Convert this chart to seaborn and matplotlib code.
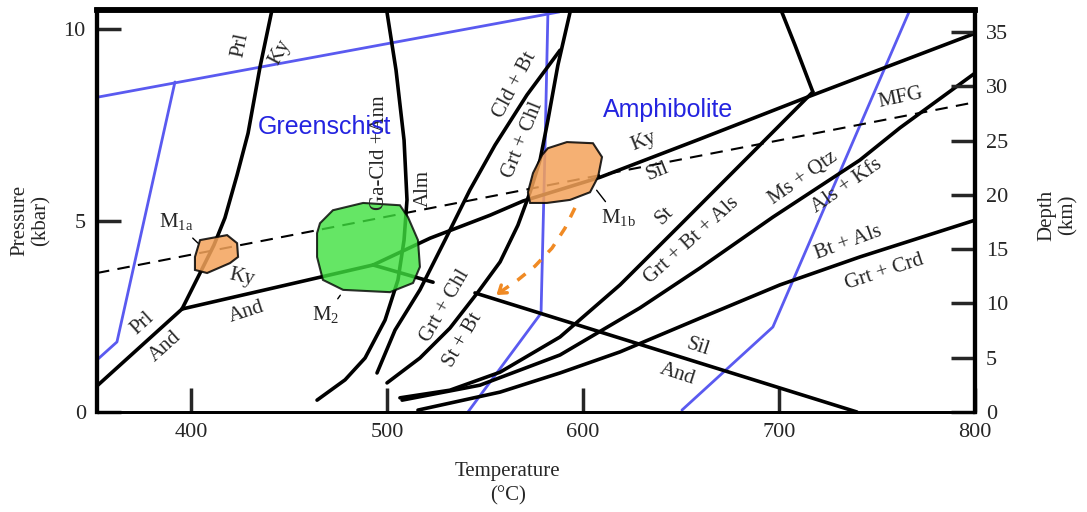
import matplotlib
matplotlib.use("Agg")
import matplotlib.pyplot as plt
import seaborn as sns

# ---- reaction curves (T in degC, P in kbar) ----
prl_and_T = [352, 395.4]
prl_and_P = [0.68, 2.69]

prl_ky_T = [395.4, 404.6, 411.7, 417.3, 423.5, 429.1, 435.2, 441.3]
prl_ky_P = [2.69, 3.63, 4.36, 5.07, 6.19, 7.28, 9.01, 10.5]

ky_and_T = [395.4, 455.6, 492.9]
ky_and_P = [2.69, 3.40, 3.84]

ky_sil_T = [492.9, 522.0, 552.6, 569.4, 608.7, 659.7, 715.8, 800]
ky_sil_P = [3.84, 4.54, 5.14, 5.51, 6.13, 7.13, 8.25, 9.89]

and_sil_a_T = [492.9, 523.5]
and_sil_a_P = [3.84, 3.39]
and_sil_b_T = [544.9, 739.8]
and_sil_b_P = [3.11, 0.0]

alm_T = [464.3, 478.6, 488.8, 499.0, 505.6, 508.7, 510.2, 508.7, 504.6, 500.0]
alm_P = [0.31, 0.84, 1.41, 2.40, 3.45, 4.49, 5.54, 7.10, 8.93, 10.44]

cld_bt_T = [494.9, 504.1, 516.8, 529.6, 542.3, 555.1, 571.4, 588.3]
cld_bt_P = [1.02, 2.14, 3.19, 4.49, 5.80, 6.97, 8.28, 9.45]

grt_chl_T = [500.0, 516.8, 532.1, 546.4, 557.7, 566.8, 573.0, 578.1, 582.1, 587.2, 593.4]
grt_chl_P = [0.76, 1.41, 2.19, 3.13, 3.92, 4.88, 5.74, 6.58, 7.62, 9.06, 10.44]

melt_T = [701.5, 708.2, 717.3]
melt_P = [10.44, 9.58, 8.36]

st_T = [717.3, 685.2, 649.5, 618.9, 588.3, 557.7, 532.1, 506.6]
st_P = [8.36, 6.71, 4.88, 3.32, 1.96, 1.04, 0.57, 0.37]

ms_qtz_T = [800, 761.7, 741.3, 696.9, 659.7, 629.1, 588.3, 547.4, 507.7]
ms_qtz_P = [8.85, 7.42, 6.58, 5.09, 3.76, 2.72, 1.49, 0.70, 0.31]

bt_als_T = [800, 741.3, 700.5, 659.7, 618.9, 588.3, 557.7, 515.8]
bt_als_P = [5.01, 4.05, 3.32, 2.45, 1.57, 1.02, 0.52, 0.05]

mfg_T = [352, 800]
mfg_P = [3.63, 8.09]

# ---- facies boundaries (blue) ----
fac_top_T = [352, 588]
fac_top_P = [8.22, 10.45]
fac_left_T = [391.8, 362.2, 352]
fac_left_P = [8.62, 1.83, 1.36]
fac_mid_T = [582.1, 580.6, 578.6, 541.3]
fac_mid_P = [10.42, 6.84, 2.58, 0.0]
fac_right_T = [650.5, 696.9, 766.8]
fac_right_P = [0.05, 2.22, 10.5]

# ---- metamorphic stages ----
m1a_T = [404.6, 418.4, 423.5, 424.0, 419.9, 408.2, 402.0, 402.0]
m1a_P = [4.49, 4.62, 4.41, 4.05, 3.89, 3.63, 3.71, 4.05]
m2_T = [465.8, 472.4, 487.8, 506.6, 510.7, 515.8, 516.8, 513.3, 501.5, 477.6, 467.3, 464.3, 464.3]
m2_P = [4.93, 5.27, 5.46, 5.40, 5.09, 4.49, 3.79, 3.37, 3.13, 3.19, 3.45, 4.05, 4.67]
m1b_T = [582.1, 591.8, 605.1, 609.7, 607.7, 603.6, 593.4, 581.6, 573.0, 571.9, 574.5, 579.1]
m1b_P = [6.89, 7.05, 7.02, 6.66, 6.14, 5.74, 5.54, 5.46, 5.46, 5.74, 6.24, 6.71]

path_T = [595.9, 590.8, 584.2, 575.5, 566.8, 557.7]
path_P = [5.33, 4.80, 4.28, 3.81, 3.45, 3.13]

# ---- labels: text, T, P, rotation ----
labels = [
    ("Prl", 425.0, 9.58, 78), ("Ky", 445.4, 9.40, 62),
    ("Prl", 375.0, 2.32, 42), ("And", 386.7, 1.70, 42),
    ("Ky", 426.0, 3.52, -12), ("And", 428.6, 2.61, 18),
    ("Ky", 631.0, 7.08, 22), ("Sil", 638.3, 6.29, 22),
    ("Sil", 658.7, 1.70, -18), ("And", 648.0, 0.99, -18),
    ("St", 641.8, 5.14, 45), ("Grt + Bt + Als", 655.6, 4.49, 42),
    ("Ms + Qtz", 712.2, 6.11, 35), ("Als + Kfs", 734.7, 5.90, 35),
    ("Bt + Als", 735.2, 4.41, 20), ("Grt + Crd", 753.6, 3.66, 18),
    ("MFG", 762.2, 8.20, 12),
    ("Cld + Bt", 565.3, 8.54, 62), ("Grt + Chl", 569.4, 7.10, 68),
    ("Grt + Chl", 529.6, 2.77, 60), ("St + Bt", 538.8, 1.88, 60),
    ("Ga-Cld +Ann", 496.4, 6.76, 90), ("Alm", 518.4, 5.85, 90),
]
facies = [("Greenschist", 467.9, 7.44), ("Amphibolite", 643.4, 7.89)]

sns.set_style("white")
plt.rcParams["font.family"] = ["Liberation Serif", "DejaVu Serif"]
plt.rcParams["mathtext.fontset"] = "custom"
plt.rcParams["mathtext.rm"] = "Liberation Serif"

fig = plt.figure(figsize=(10.87, 5.12), dpi=100)
ax = fig.add_axes([0.0892, 0.1953, 0.8077, 0.7852])

def curve(T, P, color="black", lw=2.6, **kw):
    sns.lineplot(x=T, y=P, sort=False, estimator=None, ax=ax,
                 color=color, linewidth=lw, legend=False, **kw)

blue = "#5a5af0"
for T, P in [(fac_top_T, fac_top_P), (fac_left_T, fac_left_P),
             (fac_mid_T, fac_mid_P), (fac_right_T, fac_right_P)]:
    curve(T, P, color=blue, lw=2.0)

for T, P in [(prl_and_T, prl_and_P), (prl_ky_T, prl_ky_P), (ky_and_T, ky_and_P),
             (ky_sil_T, ky_sil_P), (and_sil_a_T, and_sil_a_P), (and_sil_b_T, and_sil_b_P),
             (alm_T, alm_P), (cld_bt_T, cld_bt_P), (grt_chl_T, grt_chl_P),
             (melt_T, melt_P), (st_T, st_P), (ms_qtz_T, ms_qtz_P), (bt_als_T, bt_als_P)]:
    curve(T, P)

ax.plot(mfg_T, mfg_P, color="black", lw=1.5, dashes=(6, 4))

ax.fill(m1a_T, m1a_P, facecolor="#f4a35a", edgecolor="black", lw=1.5, alpha=0.85, zorder=5)
ax.fill(m2_T, m2_P, facecolor="#3ee03e", edgecolor="black", lw=1.5, alpha=0.8, zorder=5)
ax.fill(m1b_T, m1b_P, facecolor="#f4a35a", edgecolor="black", lw=1.5, alpha=0.85, zorder=5)

ax.plot(path_T, path_P, color="#f08a24", lw=2.5, dashes=(3, 3), zorder=6)
ax.annotate("", xy=(path_T[-1] - 3, path_P[-1] - 0.12), xytext=(path_T[-1] + 2, path_P[-1] + 0.08),
            arrowprops=dict(arrowstyle="->,head_length=0.5,head_width=0.35", color="#f08a24", lw=2.5),
            zorder=6)

for txt, T, P, rot in labels:
    ax.text(T, P, txt, rotation=rot, ha="center", va="center", fontsize=15,
            rotation_mode="anchor", zorder=7)
for txt, T, P in facies:
    ax.text(T, P, txt, ha="center", va="center", fontsize=18, color="#2424e0",
            family=["Liberation Sans", "DejaVu Sans"], zorder=7)

ax.annotate(r"M$_\mathregular{1a}$", xy=(404.6, 4.36), xytext=(392.3, 4.96), fontsize=15,
            ha="center", va="center", arrowprops=dict(arrowstyle="-", color="black", lw=1))
ax.annotate(r"M$_\mathregular{2}$", xy=(477.0, 3.11), xytext=(468.9, 2.53), fontsize=15,
            ha="center", va="center", arrowprops=dict(arrowstyle="-", color="black", lw=1))
ax.annotate(r"M$_\mathregular{1b}$", xy=(606.1, 5.85), xytext=(617.9, 5.07), fontsize=15,
            ha="center", va="center", arrowprops=dict(arrowstyle="-", color="black", lw=1))

ax.set_xlim(352, 800)
ax.set_ylim(0, 10.5)
ax.set_xticks([400, 500, 600, 700, 800])
ax.set_yticks([0, 5, 10])
ax.tick_params(direction="in", length=17, width=2.5, labelsize=16, pad=8,
               bottom=True, left=True, top=False, right=False)
ax.set_xlabel("")
ax.set_ylabel("")

ax2 = ax.twinx()
ax2.set_ylim(0, 37.04)
ax2.set_yticks(range(0, 40, 5))
ax2.tick_params(direction="in", length=17, width=2.5, labelsize=16, pad=8,
                right=True, left=False)

for a in (ax, ax2):
    for s in a.spines.values():
        s.set_color("black")
    a.spines["top"].set_linewidth(4)
    a.spines["left"].set_linewidth(3)
    a.spines["right"].set_linewidth(3)
    a.spines["bottom"].set_linewidth(2)

fig.text(0.028, 0.57, "Pressure\n(kbar)", rotation=90, ha="center", va="center", fontsize=15,
         linespacing=1.1)
fig.text(0.973, 0.58, "Depth\n(km)", rotation=90, ha="center", va="center", fontsize=15,
         linespacing=1.1)
fig.text(0.467, 0.055, "Temperature\n(°C)", ha="center", va="center", fontsize=15,
         linespacing=1.4)

fig.savefig("out.png", dpi=100, facecolor="white")
